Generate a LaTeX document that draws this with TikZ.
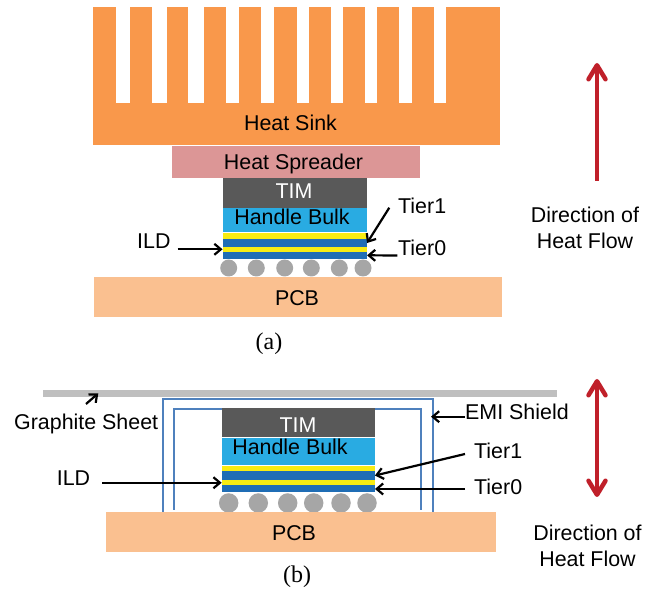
\documentclass[tikz,border=0pt]{standalone}
\usepackage{fontspec}
\setmainfont{Liberation Sans}
\newfontfamily\capfont{Liberation Serif}
\usetikzlibrary{arrows.meta,positioning}
\definecolor{sinkcol}{HTML}{F9984B}
\definecolor{spreadcol}{HTML}{DC9696}
\definecolor{timcol}{HTML}{595959}
\definecolor{bulkcol}{HTML}{29ABE2}
\definecolor{ildcol}{HTML}{F7EC13}
\definecolor{tiercol}{HTML}{1F6DB5}
\definecolor{ballcol}{HTML}{A6A6A6}
\definecolor{pcbcol}{HTML}{FAC090}
\definecolor{sheetcol}{HTML}{BFBFBF}
\definecolor{shieldcol}{HTML}{4F81BD}
\definecolor{flowcol}{HTML}{C0202A}

\begin{document}
\begin{tikzpicture}[
  x=1pt,y=-1pt,
  block/.style={rectangle,inner sep=0pt,outer sep=0pt,draw=none},
  ball/.style={circle,inner sep=0pt,outer sep=0pt,fill=ballcol},
  lbl/.style={anchor=base,inner sep=0pt,font=\fontsize{21.4}{21.4}\selectfont},
  lblw/.style={anchor=base west,inner sep=0pt,font=\fontsize{21.4}{21.4}\selectfont},
  captxt/.style={anchor=base,inner sep=0pt,font=\fontsize{24}{24}\selectfont\capfont},
  ptr/.style={line width=2.2pt,-{Straight Barb[length=6.5pt,width=11pt,line width=2.2pt]}},
  flow/.style={line width=4.5pt,color=flowcol,-{Straight Barb[length=14pt,width=17pt,line width=4.5pt,round]}},
  flowboth/.style={line width=4.5pt,color=flowcol,{Straight Barb[length=14pt,width=17pt,line width=4.5pt,round]}-{Straight Barb[length=14pt,width=17pt,line width=4.5pt,round]}},
  shield/.style={line width=2.2pt,color=shieldcol}
]
\useasboundingbox (0,0) rectangle (657,593);

% top stack (a)
\foreach \xa/\xb in {93/115.7,129.7/151.7,166.7/188.3,204.3/226.3,238.7/260.7,274.3/296.7,309/331.3,342.7/365.3,376.7/398.7,411.7/434,446/500}
  \fill[sinkcol] (\xa,7) rectangle (\xb,104);
\node[block,fill=sinkcol,minimum width=407pt,minimum height=42pt] (sinkA) at (296.5,124.5) {};
\node[block,fill=spreadcol,minimum width=248pt,minimum height=32pt] (spreadA) at (296,162) {};
\node[block,fill=timcol,minimum width=144.5pt,minimum height=29.7pt] (timA) at (294.8,193.2) {};
\node[block,fill=bulkcol,minimum width=144.5pt,minimum height=23.4pt] (bulkA) at (294.8,220) {};
\node[block,fill=ildcol,minimum width=144.5pt,minimum height=5.7pt] (ildtopA) at (294.8,236.2) {};
\node[block,fill=tiercol,minimum width=144.5pt,minimum height=8pt] (tieroneA) at (294.8,243) {};
\node[block,fill=ildcol,minimum width=144.5pt,minimum height=4.7pt] (ildA) at (294.8,249.3) {};
\node[block,fill=tiercol,minimum width=144.5pt,minimum height=7.3pt] (tierzeroA) at (294.8,255.3) {};
\foreach \x [count=\i] in {228.7,256.3,284.7,311.3,339.3,363}
  \node[ball,minimum size=17pt] (ballA\i) at (\x,268) {};
\node[block,fill=pcbcol,minimum width=408pt,minimum height=40pt] (pcbA) at (298,297) {};

\node[lbl] (sinkAtxt) at (290.5,131) {Heat Sink};
\node[lbl] (spreadAtxt) at (293.5,170) {Heat Spreader};
\node[lbl,text=white] (timAtxt) at (294,198.5) {TIM};
\node[lbl] (bulkAtxt) at (292,224.5) {Handle Bulk};
\node[lbl] (pcbAtxt) at (297,306) {PCB};
\node[lblw] (ildAtxt) at (137,248.7) {ILD};
\node[lblw] (tieroneAtxt) at (398,214) {Tier1};
\node[lblw] (tierzeroAtxt) at (398,256) {Tier0};
\node[lbl] (dirAtxt) at (585,223) {Direction of};
\node[lbl] (heatAtxt) at (585,249) {Heat Flow};
\node[captxt] (capA) at (269,350) {(a)};

\coordinate (ildAfrom) at (177.7,249.3);
\coordinate (tieroneAfrom) at (389.3,207.7);
\coordinate (tierzeroAfrom) at (397.3,255.5);
\coordinate (flowAtail) at (597,181);
\coordinate (flowAhead) at (597,63);
\draw[ptr] (ildAfrom) -- (ildA.west);
\draw[ptr] (tieroneAfrom) -- (tieroneA.east);
\draw[ptr] (tierzeroAfrom) -- (tierzeroA.east);
\draw[flow] (flowAtail) -- (flowAhead);

% bottom stack (b)
\node[block,fill=sheetcol,minimum width=513.4pt,minimum height=7pt] (sheetB) at (300,393.5) {};
\draw[shield] (162.7,512) |- (433.3,399) -- (433.3,512);
\draw[shield] (174.3,510) |- (421.3,409) -- (421.3,510);
\node[block,fill=timcol,minimum width=153.3pt,minimum height=29pt] (timB) at (298.3,422.5) {};
\node[block,fill=bulkcol,minimum width=153.3pt,minimum height=27pt] (bulkB) at (298.3,451.5) {};
\node[block,fill=ildcol,minimum width=153.3pt,minimum height=5.3pt] (ildtopB) at (298.3,468.3) {};
\node[block,fill=tiercol,minimum width=153.3pt,minimum height=9pt] (tieroneB) at (298.3,475.5) {};
\node[block,fill=ildcol,minimum width=153.3pt,minimum height=5.5pt] (ildB) at (298.3,482.75) {};
\node[block,fill=tiercol,minimum width=153.3pt,minimum height=7pt] (tierzeroB) at (298.3,489) {};
\foreach \x [count=\i] in {228.7,258.3,287.7,313.7,341,367}
  \node[ball,minimum size=19.5pt] (ballB\i) at (\x,503) {};
\node[block,fill=pcbcol,minimum width=390pt,minimum height=40pt] (pcbB) at (301,532) {};

\node[lbl,text=white] (timBtxt) at (298,432.7) {TIM};
\node[lbl] (bulkBtxt) at (290,454.3) {Handle Bulk};
\node[lbl] (pcbBtxt) at (294,541) {PCB};
\node[lblw] (sheetBtxt) at (14,430) {Graphite Sheet};
\node[lblw] (ildBtxt) at (56.7,485.7) {ILD};
\node[lblw] (emiBtxt) at (465,419.3) {EMI Shield};
\node[lblw] (tieroneBtxt) at (474,459) {Tier1};
\node[lblw] (tierzeroBtxt) at (474,495) {Tier0};
\node[lbl] (dirBtxt) at (587.5,541) {Direction of};
\node[lbl] (heatBtxt) at (587.5,567) {Heat Flow};
\node[captxt] (capB) at (297,583) {(b)};

\coordinate (sheetBfrom) at (86,404);
\coordinate (sheetBtip) at (98.3,393.3);
\coordinate (ildBfrom) at (102.3,482.75);
\coordinate (emiBfrom) at (465,416.7);
\coordinate (emiBtip) at (431,416.7);
\coordinate (tieroneBfrom) at (465,454);
\coordinate (tierzeroBfrom) at (465,489);
\coordinate (flowBtop) at (597,379);
\coordinate (flowBbot) at (597,497);
\draw[ptr] (sheetBfrom) -- (sheetBtip);
\draw[ptr] (ildBfrom) -- (ildB.west);
\draw[ptr] (emiBfrom) -- (emiBtip);
\draw[ptr] (tieroneBfrom) -- (tieroneB.east);
\draw[ptr] (tierzeroBfrom) -- (tierzeroB.east);
\draw[flowboth] (flowBtop) -- (flowBbot);
\end{tikzpicture}
\end{document}
